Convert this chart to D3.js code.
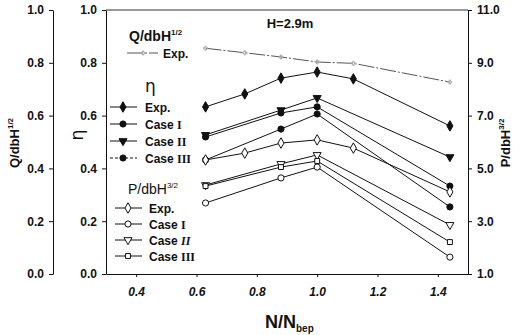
<!DOCTYPE html>
<html>
<head>
<meta charset="utf-8">
<script src="https://cdn.jsdelivr.net/npm/d3@7"></script>
<style>
  body { margin: 0; background: #fff; }
  svg { display: block; font-family: "Liberation Sans", Arial, sans-serif; }
</style>
</head>
<body>
<svg id="chart" width="521" height="335"></svg>
<script>
// Data
const xExp = [0.63, 0.76, 0.88, 1.0, 1.12, 1.44];
const xCase = [0.63, 0.88, 1.0, 1.44];
const qExp = [0.855, 0.838, 0.822, 0.803, 0.798, 0.727];
const etaExp = [0.633, 0.682, 0.742, 0.765, 0.739, 0.561];
const etaCase1 = [0.519, 0.610, 0.633, 0.333];
const etaCase2 = [0.527, 0.621, 0.667, 0.443];
const etaCase3 = [0.432, 0.549, 0.606, 0.254];
const pExp = [5.32, 5.58, 5.96, 6.08, 5.77, 4.11];
const pCase1 = [3.69, 4.64, 5.05, 1.64];
const pCase2 = [4.37, 5.17, 5.51, 2.86];
const pCase3 = [4.33, 5.05, 5.28, 2.21];

const xTicks = [0.4, 0.6, 0.8, 1.0, 1.2, 1.4];
const leftTicks = [0, 0.2, 0.4, 0.6, 0.8, 1.0];
const rightTicks = [1, 3, 5, 7, 9, 11];

const svg = d3.select("#chart");
const plot = { left: 106, right: 468, top: 10, bottom: 274 };

const x = d3.scaleLinear().domain([0.3, 1.5]).range([plot.left, plot.right]);
const yQ = d3.scaleLinear().domain([0, 1]).range([plot.bottom, plot.top]);
const yEta = d3.scaleLinear().domain([0, 1]).range([plot.bottom, plot.top]);
const yP = d3.scaleLinear().domain([1, 11]).range([plot.bottom, plot.top]);

const fmt = d3.format(".1f");
const ink = "#111";

function styleAxis(g, italic) {
    g.selectAll("path, line").attr("stroke", ink).attr("stroke-width", 1);
    g.selectAll("text")
        .attr("fill", ink)
        .attr("font-size", 12)
        .attr("font-weight", "bold")
        .attr("font-style", italic ? "italic" : "normal");
}

// Outer Q axis
svg.append("g")
    .attr("transform", "translate(53,0)")
    .call(d3.axisLeft(yQ).tickValues(leftTicks).tickFormat(fmt).tickSize(4).tickSizeOuter(0).tickPadding(5))
    .call((g) => styleAxis(g, false));

// Inner eta axis
svg.append("g")
    .attr("transform", `translate(${plot.left},0)`)
    .call(d3.axisLeft(yEta).tickValues(leftTicks).tickFormat(fmt).tickSize(4).tickSizeOuter(0).tickPadding(5))
    .call((g) => styleAxis(g, false));

// Right P axis
svg.append("g")
    .attr("transform", `translate(${plot.right},0)`)
    .call(d3.axisRight(yP).tickValues(rightTicks).tickFormat(fmt).tickSize(4).tickSizeOuter(0).tickPadding(5))
    .call((g) => styleAxis(g, false));

// Bottom axis
svg.append("g")
    .attr("transform", `translate(0,${plot.bottom})`)
    .call(d3.axisBottom(x).tickValues(xTicks).tickFormat(fmt).tickSize(3).tickSizeOuter(0).tickPadding(10))
    .call((g) => styleAxis(g, true));

// top frame line
svg.append("line")
    .attr("x1", plot.left).attr("x2", plot.right)
    .attr("y1", plot.top).attr("y2", plot.top)
    .attr("stroke", "#333").attr("stroke-width", 1);

// Axis titles
svg.append("text")
    .attr("transform", "translate(19,143) rotate(-90)")
    .attr("text-anchor", "middle")
    .attr("font-size", 13).attr("font-weight", "bold").attr("fill", ink)
    .call((t) => {
        t.append("tspan").text("Q/dbH");
        t.append("tspan").attr("font-size", 8).attr("dy", -6).text("1/2");
    });

svg.append("text")
    .attr("transform", "translate(83,135) rotate(-90)")
    .attr("text-anchor", "middle")
    .attr("font-size", 18).attr("fill", ink)
    .attr("font-family", "DejaVu Sans")
    .text("η");

svg.append("text")
    .attr("transform", "translate(510,143) rotate(-90)")
    .attr("text-anchor", "middle")
    .attr("font-size", 13).attr("font-weight", "bold").attr("fill", ink)
    .call((t) => {
        t.append("tspan").text("P/dbH");
        t.append("tspan").attr("font-size", 8).attr("dy", -6).text("3/2");
    });

svg.append("text")
    .attr("x", 265).attr("y", 328)
    .attr("font-size", 18).attr("font-weight", "bold").attr("fill", ink)
    .call((t) => {
        t.append("tspan").text("N/N");
        t.append("tspan").attr("font-size", 10).attr("dy", 4).text("bep");
    });

svg.append("text")
    .attr("x", 290).attr("y", 28)
    .attr("text-anchor", "middle")
    .attr("font-size", 13).attr("font-weight", "bold").attr("fill", ink)
    .text("H=2.9m");

// Series
const symbols = {
    diamond: { type: d3.symbolDiamond, size: 32, rotate: 0 },
    circle: { type: d3.symbolCircle, size: 30, rotate: 0 },
    triDown: { type: d3.symbolTriangle, size: 28, rotate: 180 },
    square: { type: d3.symbolSquare, size: 24, rotate: 0 },
    tick: { type: d3.symbolCross, size: 9, rotate: 0 },
};

const series = [
    { xs: xExp, ys: qExp, scale: yQ, sym: "tick", fill: "none", stroke: "#aaa", line: "#555", dash: "16,2,2,2" },
    { xs: xExp, ys: etaExp, scale: yEta, sym: "diamond", fill: ink, stroke: ink, line: ink },
    { xs: xCase, ys: etaCase1, scale: yEta, sym: "circle", fill: ink, stroke: ink, line: ink },
    { xs: xCase, ys: etaCase2, scale: yEta, sym: "triDown", fill: ink, stroke: ink, line: ink },
    { xs: xCase, ys: etaCase3, scale: yEta, sym: "circle", fill: ink, stroke: ink, line: ink },
    { xs: xExp, ys: pExp, scale: yP, sym: "diamond", fill: "#fff", stroke: ink, line: ink },
    { xs: xCase, ys: pCase1, scale: yP, sym: "circle", fill: "#fff", stroke: ink, line: ink },
    { xs: xCase, ys: pCase2, scale: yP, sym: "triDown", fill: "#fff", stroke: ink, line: ink },
    { xs: xCase, ys: pCase3, scale: yP, sym: "square", fill: "#fff", stroke: ink, line: ink },
];

function drawSymbol(g, name, fill, stroke, px, py) {
    const s = symbols[name];
    g.append("path")
        .attr("d", d3.symbol().type(s.type).size(s.size)())
        .attr("transform", `translate(${px},${py}) rotate(${s.rotate})`)
        .attr("fill", fill)
        .attr("stroke", stroke)
        .attr("stroke-width", 1);
}

const lineLayer = svg.append("g");
const markLayer = svg.append("g");

series.forEach((s) => {
    const pts = s.xs.map((v, i) => [x(v), s.scale(s.ys[i])]);
    lineLayer.append("path")
        .attr("d", d3.line()(pts))
        .attr("fill", "none")
        .attr("stroke", s.line)
        .attr("stroke-width", 1)
        .attr("stroke-dasharray", s.dash || null);
    pts.forEach(([px, py]) => drawSymbol(markLayer, s.sym, s.fill, s.stroke, px, py));
});

// Legend
const leg = svg.append("g");

function legendHead(lx, ly, main, sup, size, family, weight) {
    const t = leg.append("text")
        .attr("x", lx).attr("y", ly)
        .attr("font-size", size).attr("fill", ink)
        .attr("font-weight", weight || "normal");
    if (family) t.attr("font-family", family);
    t.append("tspan").text(main);
    if (sup) t.append("tspan").attr("font-size", 8).attr("dy", -6).text(sup);
}

function legendRow(x0, x1, mx, tx, ly, s, label, numeral, italic, dash) {
    leg.append("line")
        .attr("x1", x0).attr("x2", x1).attr("y1", ly).attr("y2", ly)
        .attr("stroke", s.line).attr("stroke-width", 1)
        .attr("stroke-dasharray", dash || null);
    drawSymbol(leg, s.sym, s.fill, s.stroke, mx, ly);
    const t = leg.append("text")
        .attr("x", tx).attr("y", ly + 4.5)
        .attr("font-size", 12).attr("font-weight", "bold").attr("fill", ink);
    t.append("tspan").text(label);
    if (numeral) {
        t.append("tspan")
            .attr("font-family", "Liberation Serif")
            .attr("font-style", italic ? "italic" : "normal")
            .text(numeral);
    }
}

legendHead(129, 41, "Q/dbH", "1/2", 14, null, "bold");
legendRow(127, 158, 143, 163, 53, series[0], "Exp.", null, false, "16,2,2,2");

legendHead(145, 92, "η", null, 17, "DejaVu Sans");
legendRow(110, 137, 123, 145, 107, series[1], "Exp.", null);
legendRow(110, 137, 123, 145, 124, series[2], "Case ", "I");
legendRow(110, 137, 123, 145, 141, series[3], "Case ", "II");
legendRow(110, 137, 123, 145, 158, series[4], "Case ", "III", false, "3,2");

legendHead(128, 194, "P/dbH", "3/2", 14);
legendRow(115, 142, 128, 149, 208, series[5], "Exp.", null);
legendRow(115, 142, 128, 149, 224, series[6], "Case ", "I");
legendRow(115, 142, 128, 149, 240, series[7], "Case ", "II", true);
legendRow(115, 142, 128, 149, 256, series[8], "Case ", "III");
</script>
</body>
</html>
